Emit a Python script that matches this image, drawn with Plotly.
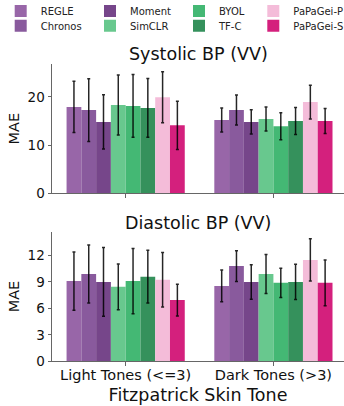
import plotly.graph_objects as go
from plotly.subplots import make_subplots

categories = ["Light Tones (<=3)", "Dark Tones (>3)"]
models = ["REGLE", "Chronos", "Moment", "SimCLR", "BYOL", "TF-C", "PaPaGei-P", "PaPaGei-S"]
colors = ["#9866a8", "#895a9d", "#76468a", "#68c88e", "#44b874", "#35915c", "#f4bcd9", "#d4207d"]

sys_mean = {
    "REGLE": [17.9, 15.2], "Chronos": [17.25, 17.25], "Moment": [14.8, 14.8],
    "SimCLR": [18.3, 15.4], "BYOL": [18.1, 13.9], "TF-C": [17.7, 15.0],
    "PaPaGei-P": [19.9, 18.9], "PaPaGei-S": [14.1, 15.0],
}
sys_err = {
    "REGLE": [5.3, 2.5], "Chronos": [6.5, 3.1], "Moment": [5.6, 2.5],
    "SimCLR": [6.2, 2.5], "BYOL": [6.5, 2.8], "TF-C": [6.1, 2.8],
    "PaPaGei-P": [5.3, 3.5], "PaPaGei-S": [5.0, 2.6],
}
dia_mean = {
    "REGLE": [9.1, 8.55], "Chronos": [9.9, 10.8], "Moment": [9.0, 9.0],
    "SimCLR": [8.45, 9.9], "BYOL": [9.1, 8.9], "TF-C": [9.6, 9.0],
    "PaPaGei-P": [9.25, 11.5], "PaPaGei-S": [6.95, 8.9],
}
dia_err = {
    "REGLE": [3.3, 1.8], "Chronos": [3.3, 1.75], "Moment": [3.9, 1.95],
    "SimCLR": [2.6, 2.2], "BYOL": [3.7, 1.65], "TF-C": [3.0, 2.0],
    "PaPaGei-P": [3.1, 2.4], "PaPaGei-S": [1.8, 2.6],
}

# legend layout: (text-left pixel x, row centre pixel y) for each model
legend_pos = {
    "REGLE": (40.7, 11.0), "Chronos": (40.7, 25.7),
    "Moment": (130.0, 11.0), "SimCLR": (130.0, 25.7),
    "BYOL": (219.0, 11.0), "TF-C": (219.0, 25.7),
    "PaPaGei-P": (293.3, 11.0), "PaPaGei-S": (293.3, 25.7),
}

W, H, L = 344, 406, 52
font = "DejaVu Sans"

fig = make_subplots(rows=2, cols=1)
legend_names = {}
for i, m in enumerate(models):
    legend_names[m] = "legend" if i == 0 else f"legend{i + 1}"

for row, (means, errs) in enumerate([(sys_mean, sys_err), (dia_mean, dia_err)], start=1):
    for m, c in zip(models, colors):
        fig.add_trace(go.Bar(
            x=categories, y=means[m], name=m, marker=dict(color=c, line=dict(width=0)),
            error_y=dict(type="data", array=errs[m], color="rgba(0,0,0,0.85)", thickness=1.5, width=1.5),
            showlegend=(row == 1), legend=legend_names[m],
        ), row=row, col=1)

legends = {}
for m in models:
    tx, ty = legend_pos[m]
    legends[legend_names[m]] = dict(
        orientation="v", font=dict(family=font, size=10, color="#222"),
        bgcolor="rgba(0,0,0,0)", borderwidth=0, xanchor="left", yanchor="middle",
        x=(tx - 40 - L) / (W - L), y=1 - ty / H, itemwidth=30,
    )

fig.update_layout(
    width=W, height=H, margin=dict(l=L, r=0, t=0, b=0, autoexpand=False),
    plot_bgcolor="white", paper_bgcolor="white",
    barmode="group", bargap=0.2, bargroupgap=0,
    font=dict(family=font, size=13, color="#222"),
    **legends,
)
axis_common = dict(showline=True, linecolor="#666", linewidth=1, ticks="outside", ticklen=3.5,
                   tickcolor="#666", showgrid=False, zeroline=False, automargin=False)
for r in (1, 2):
    fig.update_xaxes(axis_common, range=[-0.4986, 1.4778], domain=[0, 1], row=r, col=1,
                     tickfont=dict(size=14.5, color="#111"), ticklabelstandoff=-3)
fig.update_xaxes(showticklabels=False, row=1, col=1)
fig.update_xaxes(title=dict(text="Fitzpatrick Skin Tone", font=dict(size=17.5, color="#111"), standoff=6),
                 row=2, col=1)
fig.update_yaxes(axis_common, range=[0, 26.8], tickvals=[0, 10, 20], domain=[0.5239, 0.8424],
                 tickfont=dict(size=13.5, color="#111"),
                 title=dict(text="MAE", font=dict(size=14.5, color="#111"), standoff=4), row=1, col=1)
fig.update_yaxes(axis_common, range=[0, 14.7], tickvals=[0, 3, 6, 9, 12], domain=[0.1101, 0.4293],
                 tickfont=dict(size=13.5, color="#111"),
                 title=dict(text="MAE", font=dict(size=14.5, color="#111"), standoff=4), row=2, col=1)

fig.add_annotation(text="Systolic BP (VV)", x=0.5, xref="paper", y=1 - 54 / H, yref="paper",
                   showarrow=False, font=dict(size=17.5, family=font, color="#111"), xanchor="center", yanchor="middle")
fig.add_annotation(text="Diastolic BP (VV)", x=0.5, xref="paper", y=1 - 222.7 / H, yref="paper",
                   showarrow=False, font=dict(size=17.5, family=font, color="#111"), xanchor="center", yanchor="middle")

fig.write_html("out.html")
